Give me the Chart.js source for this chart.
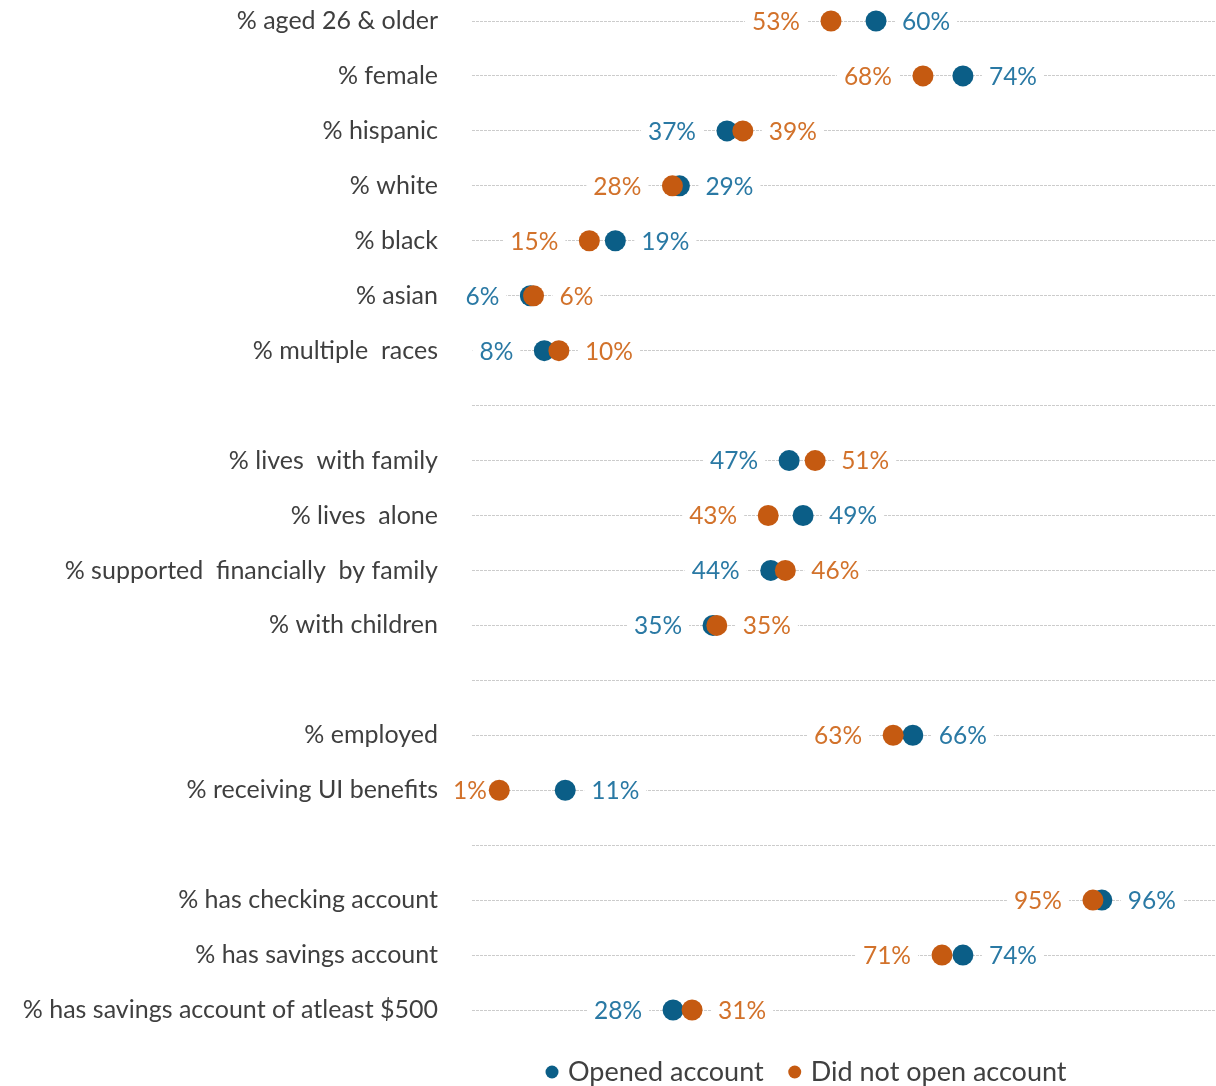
<!DOCTYPE html>
<html>
<head>
<meta charset="utf-8">
<script src="https://cdn.jsdelivr.net/npm/chart.js@4.4.1/dist/chart.umd.min.js"></script>
<style>
    html, body { margin: 0; padding: 0; background: #fff; }
    #wrap { width: 1216px; height: 1086px; position: relative; }
</style>
</head>
<body>
<div id="wrap"><canvas id="dotChart"></canvas></div>
<script>
// rows, blank strings are spacer rows between groups
const categories = [
    '% aged 26 & older', '% female', '% hispanic', '% white', '% black', '% asian', '% multiple  races',
    '',
    '% lives  with family', '% lives  alone', '% supported  financially  by family', '% with children',
    ' ',
    '% employed', '% receiving UI benefits',
    '  ',
    '% has checking account', '% has savings account', '% has savings account of atleast $500'
];
const openedAccount = [60.4, 74.1, 36.9, 29.4, 19.3, 5.9, 8.1, null, 46.7, 48.9, 43.8, 34.7, null, 66.2, 11.4, null, 96.0, 74.1, 28.4];
const notOpenedAccount = [53.3, 67.8, 39.4, 28.3, 15.2, 6.4, 10.4, null, 50.8, 43.4, 46.1, 35.3, null, 63.1, 1.0, null, 94.6, 70.8, 31.4];
const seriesNames = ['Opened account', 'Did not open account'];

const BLUE = '#0b5e87';
const ORANGE = '#c55a11';
const BLUE_TEXT = '#2a79a4';
const ORANGE_TEXT = '#d2722b';
const FONT = 'Lato, "Open Sans", sans-serif';

// value labels: smaller value to the left of its dot, larger to the right
const valueLabels = {
    id: 'valueLabels',
    beforeDatasetsDraw(chart) {
        const ctx = chart.ctx;
        const x = chart.scales.x;
        const y = chart.scales.y;
        ctx.save();
        ctx.font = '24.5px ' + FONT;
        ctx.textBaseline = 'middle';
        categories.forEach((c, i) => {
            const a = openedAccount[i];
            const b = notOpenedAccount[i];
            if (a == null || b == null) return;
            const yy = y.getPixelForValue(i) + 1;
            const leftIsBlue = a <= b;
            const lo = leftIsBlue ? a : b;
            const hi = leftIsBlue ? b : a;
            const loTxt = Math.round(lo) + '%';
            const hiTxt = Math.round(hi) + '%';
            const loW = ctx.measureText(loTxt).width;
            const hiW = ctx.measureText(hiTxt).width;

            let loX = x.getPixelForValue(lo) - 31 - loW;
            if (loX < 453) loX = 453;
            const hiX = x.getPixelForValue(hi) + 26;

            ctx.fillStyle = '#fff';
            ctx.fillRect(loX - 7, yy - 12, loW + 14, 24);
            ctx.fillRect(hiX - 7, yy - 12, hiW + 14, 24);

            ctx.textAlign = 'left';
            ctx.fillStyle = leftIsBlue ? BLUE_TEXT : ORANGE_TEXT;
            ctx.fillText(loTxt, loX, yy);
            ctx.fillStyle = leftIsBlue ? ORANGE_TEXT : BLUE_TEXT;
            ctx.fillText(hiTxt, hiX, yy);
        });
        ctx.restore();
    },
    afterDraw(chart) {
        // legend under the plot
        const ctx = chart.ctx;
        ctx.save();
        ctx.font = '27px ' + FONT;
        ctx.textBaseline = 'middle';
        ctx.textAlign = 'left';
        const cy = 1072;
        const colors = [BLUE, ORANGE];
        let px = 552;
        seriesNames.forEach((name, i) => {
            ctx.fillStyle = colors[i];
            ctx.beginPath();
            ctx.arc(px, cy, 6.5, 0, Math.PI * 2);
            ctx.fill();
            ctx.fillStyle = '#404040';
            ctx.fillText(name, px + 16, cy);
            px += 16 + ctx.measureText(name).width + 31;
        });
        ctx.restore();
    }
};

const ctx = document.getElementById('dotChart');
new Chart(ctx, {
    type: 'line',
    data: {
        labels: categories,
        datasets: [
            {
                label: seriesNames[0],
                data: openedAccount,
                showLine: false,
                pointRadius: 10.5,
                pointHoverRadius: 10.5,
                pointBorderWidth: 0,
                backgroundColor: BLUE,
                borderColor: BLUE,
                order: 1,
                clip: false
            },
            {
                label: seriesNames[1],
                data: notOpenedAccount,
                showLine: false,
                pointRadius: 10.5,
                pointHoverRadius: 10.5,
                pointBorderWidth: 0,
                backgroundColor: ORANGE,
                borderColor: ORANGE,
                order: 0,
                clip: false
            }
        ]
    },
    options: {
        indexAxis: 'y',
        responsive: true,
        maintainAspectRatio: false,
        animation: false,
        layout: { autoPadding: false, padding: { top: 21, bottom: 76, right: 0, left: 0 } },
        scales: {
            x: {
                type: 'linear',
                min: -3.3,
                max: 114,
                display: false
            },
            y: {
                type: 'category',
                offset: false,
                border: { display: false, dash: [3, 1] },
                grid: {
                    color: '#cccccc',
                    lineWidth: 1,
                    drawTicks: false
                },
                ticks: {
                    padding: 34,
                    color: '#3f3f3f',
                    font: { family: FONT, size: 25 },
                    autoSkip: false
                },
                afterFit(scale) {
                    // fixed label column, no extra room above the first row
                    scale.width = 472;
                    scale.paddingTop = 0;
                    scale.paddingBottom = 0;
                }
            }
        },
        plugins: {
            legend: { display: false },
            tooltip: { enabled: false }
        }
    },
    plugins: [valueLabels]
});
</script>
</body>
</html>
